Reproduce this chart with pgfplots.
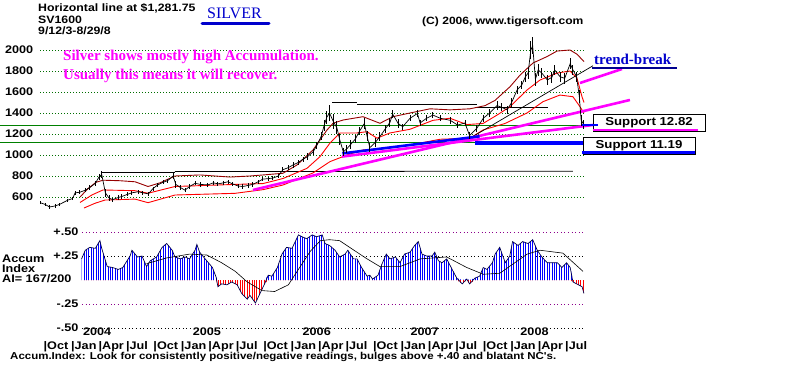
\documentclass[border=0pt]{standalone}
\usepackage{fontspec}
\setmainfont{Liberation Sans}
\newfontfamily\ms[FakeStretch=1.15]{Liberation Sans}
\newfontfamily\tms{Liberation Serif}
\usepackage{pgfplots}
\pgfplotsset{compat=1.18}
\usepackage{pgfplotstable}
\usetikzlibrary{patterns.meta}
\definecolor{gridgreen}{RGB}{0,110,0}
\definecolor{lgreen}{RGB}{0,128,0}
\definecolor{dred}{RGB}{150,0,0}
\definecolor{tblue}{RGB}{0,0,204}
\definecolor{gpurple}{RGB}{140,0,140}
\definecolor{mag}{RGB}{255,0,255}
\definecolor{pblue}{RGB}{0,0,255}
\definecolor{pred}{RGB}{255,0,0}
\newcommand\lab{\ms\bfseries\fontsize{11}{13}\selectfont}

\pgfplotstableread{
m p e
-0.5 545 15
0.0 530 15
0.5 505 15
1.1 515 15
1.6 530 15
2.5 570 15
3.0 585 15
3.3 640 20
3.8 645 20
4.4 665 20
4.9 690 25
5.5 730 25
5.9 790 30
6.2 815 30
6.6 640 40
7.0 590 25
7.4 575 20
8.0 595 20
8.4 605 20
9.0 625 20
9.5 640 20
10.2 650 20
10.7 640 20
11.3 630 20
11.8 680 20
12.3 714 20
12.9 740 20
13.4 755 20
14.0 800 30
14.3 720 30
14.8 690 20
15.3 665 20
15.8 700 20
16.4 730 20
17.0 720 20
17.8 715 20
18.4 735 20
18.9 725 20
19.5 735 20
20.0 745 20
20.5 725 20
21.1 705 20
21.6 700 20
22.2 710 20
22.7 720 20
23.3 745 20
23.8 770 20
24.4 775 20
24.9 780 20
25.5 800 20
26.0 860 25
26.6 880 25
27.1 905 25
27.7 930 25
28.2 960 25
28.7 985 30
29.3 1030 30
29.7 1090 35
30.2 1180 40
30.5 1280 50
30.8 1360 60
31.1 1400 80
31.5 1320 70
31.9 1260 60
32.2 1150 50
32.6 1030 40
33.0 1060 40
33.4 1100 40
33.9 1150 40
34.4 1230 40
34.9 1300 50
35.2 1180 50
35.5 1070 40
36.1 1120 40
36.6 1175 40
37.2 1250 40
37.7 1310 40
38.0 1390 40
38.6 1300 40
39.1 1270 30
39.9 1350 30
40.7 1395 30
41.0 1305 30
41.7 1350 30
42.4 1380 30
43.2 1350 30
44.3 1330 30
45.1 1285 30
45.9 1305 30
46.4 1185 35
47.2 1255 35
47.9 1350 35
48.6 1400 35
49.4 1470 40
49.9 1455 40
50.5 1430 40
51.0 1500 40
51.6 1620 40
52.1 1665 40
52.5 1745 50
52.8 1780 60
53.1 2000 90
53.3 2040 80
53.6 1720 60
53.9 1810 60
54.3 1780 50
54.9 1715 50
55.4 1740 50
55.7 1810 50
56.3 1745 50
56.8 1730 50
57.4 1870 50
57.7 1810 50
58.1 1745 50
58.4 1555 60
58.6 1330 50
58.9 1290 40
}\price

\pgfplotstableread{
m p
3.83 600
4.70 680
5.57 740
6.34 760
8.20 755
9.84 745
11.26 700
12.57 735
14.21 800
16.94 810
20.22 790
22.40 800
23.83 810
26.01 826
27.54 905
29.29 1048
30.82 1238
31.48 1302
32.57 1333
34.75 1365
36.61 1302
38.03 1365
39.89 1400
42.08 1440
44.26 1430
46.45 1440
48.09 1470
49.18 1520
50.82 1650
51.91 1760
53.33 1876
54.86 1937
55.96 1990
57.38 2000
58.14 1960
58.91 1890
}\bandU

\pgfplotstableread{
m p
3.83 548
5.14 620
6.34 667
9.84 660
11.26 636
14.21 700
20.77 720
23.83 728
26.01 776
28.63 873
30.05 984
31.15 1114
32.24 1210
34.10 1210
35.19 1222
36.28 1160
37.70 1210
39.89 1245
42.40 1330
44.26 1350
46.12 1290
47.87 1300
49.40 1380
50.82 1460
52.68 1619
54.10 1714
55.96 1780
57.38 1800
58.14 1733
58.69 1555
58.91 1500
}\bandM

\pgfplotstableread{
m p
4.26 495
5.46 540
6.56 571
9.84 580
11.26 546
14.21 619
20.77 635
23.83 670
26.01 714
29.29 829
31.15 937
33.01 1000
34.75 1048
36.94 1060
39.89 1095
43.17 1150
46.45 1160
47.87 1238
50.27 1300
52.68 1400
54.43 1508
56.28 1571
57.70 1555
58.47 1460
58.91 1400
}\bandL

\pgfplotstableread{
m v
4.0 0.22
4.4 0.31
4.9 0.34
5.5 0.33
6.0 0.41
6.2 0.33
6.8 0.14
7.4 0.13
8.0 0.11
8.5 0.13
9.3 0.25
9.5 0.31
10.1 0.24
10.6 0.25
11.1 0.14
11.5 0.20
12.2 0.24
12.8 0.34
13.3 0.38
13.9 0.31
14.2 0.24
14.8 0.22
15.3 0.24
15.8 0.22
16.4 0.31
16.6 0.37
16.9 0.29
17.5 0.22
18.3 0.13
18.7 0.03
18.9 -0.07
19.3 -0.04
19.9 -0.05
20.4 -0.02
21.0 -0.05
21.5 -0.14
22.1 -0.20
22.4 -0.16
23.0 -0.24
23.5 -0.14
24.0 -0.04
24.4 0.05
24.8 0.04
25.4 0.13
25.9 0.27
26.4 0.34
27.0 0.33
27.7 0.47
28.1 0.45
28.6 0.43
29.2 0.47
29.7 0.45
30.3 0.47
30.6 0.38
31.1 0.36
31.7 0.31
32.2 0.24
32.8 0.27
33.1 0.31
33.7 0.22
34.1 0.22
34.6 0.13
35.2 0.04
35.5 0.05
35.8 0.01
36.4 0.05
36.8 0.16
37.3 0.27
37.7 0.22
38.3 0.24
38.8 0.18
39.3 0.27
39.9 0.29
40.4 0.36
40.8 0.40
41.2 0.27
41.7 0.25
42.3 0.25
42.6 0.29
43.0 0.20
43.4 0.18
43.9 0.22
44.5 0.11
45.0 0.02
45.6 -0.04
46.1 0.01
46.4 -0.04
47.0 0.02
47.5 0.04
47.9 0.13
48.3 0.11
48.9 0.18
49.2 0.27
49.7 0.34
50.3 0.18
50.8 0.25
51.1 0.40
51.7 0.36
52.2 0.40
52.8 0.38
53.3 0.42
53.8 0.31
54.3 0.24
54.9 0.18
55.4 0.18
56.0 0.18
56.5 0.13
57.0 0.18
57.4 0.13
57.7 -0.02
58.1 -0.04
58.7 -0.07
58.9 -0.14
}\accum

\pgfplotstableread{
m v
11.1 0.17
13.3 0.23
15.8 0.27
17.7 0.26
19.3 0.18
20.8 0.09
22.1 -0.02
23.7 -0.11
25.1 -0.12
26.6 -0.05
27.9 0.14
29.0 0.30
30.1 0.41
31.1 0.42
32.2 0.41
33.3 0.34
35.2 0.22
36.6 0.14
38.8 0.14
41.0 0.22
43.9 0.24
46.1 0.13
47.9 0.06
49.7 0.07
52.7 0.27
54.1 0.31
56.6 0.28
58.8 0.09
}\accma

\begin{document}
\begin{tikzpicture}[x=1pt,y=1pt]
\useasboundingbox (0,0) rectangle (800,365);

% ---------- price panel ----------
\begin{axis}[
  at={(40pt,152.25pt)}, anchor=south west, scale only axis,
  width=544pt, height=178.5pt,
  xmin=-0.546, xmax=58.91, ymin=450, ymax=2150,
  axis line style={draw=none}, major tick length=0pt,
  xtick=\empty,
  ytick={600,800,1000,1200,1400,1600,1800,2000},
  yticklabels={600,800,1000,1200,1400,1600,1800,2000},
  yticklabel style={font=\lab, xshift=-3.3pt},
  ymajorgrids,
  grid style={dash pattern=on 1pt off 2pt, line width=0.8pt, color=gridgreen},
  clip=false]
  % horizontal support lines
  \addplot[lgreen, line width=1.1pt] coordinates {(-4.92,1282) (58.8,1282)};
  \addplot[lgreen, line width=1.1pt] coordinates {(-4.92,1119) (58.8,1119)};
  % previous highs
  \addplot[black, line width=0.8pt] coordinates {(6.1,835) (14.2,835)};
  \addplot[black, line width=0.8pt] coordinates {(14.2,842) (57.7,846)};
  \addplot[black, line width=0.8pt] coordinates {(31.4,1498) (34.1,1498)};
  \addplot[black, line width=0.8pt] coordinates {(34.1,1480) (47.2,1480)};
  \addplot[black, line width=0.8pt] coordinates {(47.2,1455) (55.0,1455)};
  % bands
  \addplot[dred, line width=0.9pt] table[x=m,y=p] {\bandU};
  \addplot[pred, line width=0.9pt] table[x=m,y=p] {\bandM};
  \addplot[pred, line width=0.9pt] table[x=m,y=p] {\bandL};
  % trend lines
  \addplot[black, line width=0.7pt] coordinates {(46.12,1143) (59.89,1850)};
  \addplot[mag, line width=2.6pt] coordinates {(22.73,667) (63.93,1524)};
  \addplot[mag, line width=2.6pt] coordinates {(32.46,985) (59.89,1286)};
  \addplot[pblue, line width=2.6pt] coordinates {(32.5,1015) (47.5,1178)};
  \addplot[pblue, line width=4pt] coordinates {(47.0,1115) (58.8,1115)};
  \addplot[mag, line width=2.6pt] coordinates {(58.47,1686) (63.06,1819)};
  \addplot[tblue!70!black, line width=2.6pt] coordinates {(59.78,1829) (69.07,1829)};
  % price
  \addplot[black, line width=0.7pt, error bars/.cd, y dir=both, y explicit,
     error bar style={line width=0.9pt}, error mark=none]
     table[x=m, y=p, y error=e] {\price};
\end{axis}

% ---------- accumulation panel ----------
\begin{axis}[
  at={(40pt,32.2pt)}, anchor=south west, scale only axis,
  width=544pt, height=105.6pt,
  xmin=-0.546, xmax=58.91, ymin=-0.55, ymax=0.55,
  axis line style={draw=none}, major tick length=0pt,
  xtick={0,3,...,57},
  xticklabels={|Oct,|Jan,|Apr,|Jul,|Oct,|Jan,|Apr,|Jul,|Oct,|Jan,|Apr,|Jul,|Oct,|Jan,|Apr,|Jul,|Oct,|Jan,|Apr,|Jul},
  xticklabel style={font=\lab, anchor=base west, inner sep=0pt, xshift=-1.5pt, yshift=-16.5pt},
  ytick={-0.5,-0.25,0.25,0.5},
  yticklabels={-.50,-.25,+.25,+.50},
  yticklabel style={font=\lab, xshift=42pt},
  clip=false]
  \draw[dash pattern=on 1pt off 2.6pt, line width=0.9pt, gpurple] (axis cs:4.04,0.5) -- (axis cs:58.9,0.5);
  \draw[dash pattern=on 1pt off 2.6pt, line width=0.9pt, black] (axis cs:4.04,0.25) -- (axis cs:58.9,0.25);
  \draw[dash pattern=on 1pt off 2.6pt, line width=0.9pt, gpurple] (axis cs:4.04,-0.25) -- (axis cs:58.9,-0.25);
  \draw[dash pattern=on 1pt off 2.6pt, line width=0.9pt, black] (axis cs:4.04,-0.5) -- (axis cs:58.9,-0.5);
  \addplot[draw=none, pattern={Lines[angle=90, distance=2.4pt, line width=1pt]}, pattern color=pblue,
     y filter/.expression={max(y,0)}] table[x=m,y=v] {\accum} -- (axis cs:58.9,0) -- (axis cs:4.0,0) -- cycle;
  \addplot[draw=none, pattern={Lines[angle=90, distance=2.4pt, line width=1pt]}, pattern color=pred,
     y filter/.expression={min(y,0)}] table[x=m,y=v] {\accum} -- (axis cs:58.9,0) -- (axis cs:4.0,0) -- cycle;
  \addplot[black!70!blue, line width=0.7pt] table[x=m,y=v] {\accum};
  \addplot[black, line width=0.6pt] table[x=m,y=v] {\accma};
  \node[font=\lab, anchor=base] at (axis cs:5.7,-0.573) {2004};
  \node[font=\lab, anchor=base] at (axis cs:17.7,-0.573) {2005};
  \node[font=\lab, anchor=base] at (axis cs:29.7,-0.573) {2006};
  \node[font=\lab, anchor=base] at (axis cs:41.5,-0.573) {2007};
  \node[font=\lab, anchor=base] at (axis cs:53.5,-0.573) {2008};
\end{axis}

% ---------- texts ----------
\node[anchor=base west, inner sep=0, font=\ms\bfseries\fontsize{10.7}{12}\selectfont] at (38,353.3) {Horizontal line at \$1,281.75};
\node[anchor=base west, inner sep=0, font=\ms\bfseries\fontsize{10.7}{12}\selectfont] at (38,341) {SV1600};
\node[anchor=base west, inner sep=0, font=\ms\bfseries\fontsize{10.7}{12}\selectfont] at (38,330.7) {9/12/3-8/29/8};
\node[anchor=base west, inner sep=0, font=\tms\fontsize{16}{16}\selectfont, text=tblue] at (207,346.7) {SILVER};
\draw[tblue, line width=3pt, line cap=round] (202,341.5) -- (269,341.5);
\node[anchor=base west, inner sep=0, font=\ms\bfseries\fontsize{10.5}{12}\selectfont] at (422,340.5) {(C) 2006, www.tigersoft.com};
\node[anchor=base west, inner sep=0, font=\tms\bfseries\fontsize{15}{15}\selectfont, text=mag] at (63,305) {Silver shows mostly high Accumulation.};
\node[anchor=base west, inner sep=0, font=\tms\bfseries\fontsize{15}{15}\selectfont, text=mag] at (63,286) {Usually this means it will recover.};
\node[anchor=base west, inner sep=0, font=\tms\bfseries\fontsize{15}{15}\selectfont, text=tblue] at (594,300) {trend-break};
% support boxes
\node[draw, line width=0.8pt, minimum width=112pt, minimum height=17pt, inner sep=0, font=\ms\bfseries\fontsize{11.5}{13}\selectfont] at (649,242.5) {Support 12.82};
\draw[mag, line width=2pt] (593,235.5) -- (698,235.5);
\draw[pblue, line width=1.5pt] (582,240) -- (598,240);
\node[draw, line width=0.8pt, minimum width=112pt, minimum height=17pt, inner sep=0, font=\ms\bfseries\fontsize{11.5}{13}\selectfont] at (639,219.5) {Support 11.19};
\draw[pblue, line width=3pt] (582,212.5) -- (695,212.5);
% accum side labels and footer
\node[anchor=base west, inner sep=0, font=\lab] at (2,102.7) {Accum};
\node[anchor=base west, inner sep=0, font=\lab] at (2,92.7) {Index};
\node[anchor=base west, inner sep=0, font=\lab] at (2,82.3) {AI= 167/200};
\node[anchor=base west, inner sep=0, font=\ms\bfseries\fontsize{10}{12}\selectfont] at (10,5.7) {Accum.Index: Look for consistently positive/negative readings, bulges above +.40 and blatant NC's.};
\end{tikzpicture}
\end{document}
